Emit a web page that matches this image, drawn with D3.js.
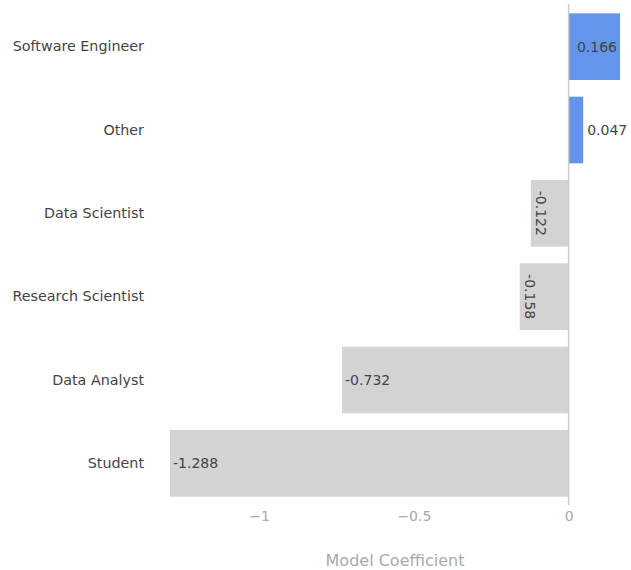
<!DOCTYPE html>
<meta charset='utf-8'>
<style>
	body { margin: 0; background: #fff; }
	text { font-family: 'DejaVu Sans', Verdana, sans-serif; }
</style>
<body>
	<div id='container'></div>
<script src='https://d3js.org/d3.v7.min.js'></script>
<script>
	const categories = ['Software Engineer', 'Other', 'Data Scientist', 'Research Scientist', 'Data Analyst', 'Student'];
	const coefficients = [0.166, 0.047, -0.122, -0.158, -0.732, -1.288];
	const tickValues = [-1, -0.5, 0];
	const axisTitle = 'Model Coefficient';

	const W = 631, H = 570,
		plot = { left: 170, right: 620, top: 5, bottom: 505 },
		fontSize = 14, pad = 3;

	const data = categories.map( ( c, i ) => ( { name: c, value: coefficients[i] } ) );

	const x = d3.scaleLinear()
		.domain( [d3.min( coefficients ), d3.max( coefficients )] )
		.range( [plot.left, plot.right] );
	const y = d3.scaleBand()
		.domain( categories )
		.range( [plot.top, plot.bottom] )
		.paddingInner( 0.2 )
		.paddingOuter( 0.1 );

	const svg = d3.select( '#container' ).append( 'svg' )
		.attr( 'width', W )
		.attr( 'height', H );

	// bars
	svg.append( 'g' ).selectAll( 'rect' )
		.data( data )
		.join( 'rect' )
			.attr( 'x', d => Math.min( x( 0 ), x( d.value ) ) )
			.attr( 'y', d => y( d.name ) )
			.attr( 'width', d => Math.abs( x( d.value ) - x( 0 ) ) )
			.attr( 'height', y.bandwidth() )
			.attr( 'fill', d => d.value >= 0 ? '#6495ed' : '#d3d3d3' );

	// zero line
	svg.append( 'line' )
		.attr( 'x1', x( 0 ) ).attr( 'x2', x( 0 ) )
		.attr( 'y1', plot.top - 1 ).attr( 'y2', plot.bottom )
		.attr( 'stroke', '#cccccc' )
		.attr( 'stroke-width', 1.5 );

	// category labels
	const yAxis = d3.axisLeft( y ).tickSize( 0 ).tickPadding( 0 );
	const yAxisEl = svg.append( 'g' )
		.attr( 'transform', `translate( ${plot.left - 26}, 0 )` )
		.call( yAxis );
	yAxisEl.select( '.domain' ).remove();
	yAxisEl.selectAll( 'text' )
		.attr( 'fill', '#444' )
		.style( 'font-size', '14.3px' )
		.style( 'font-family', "'DejaVu Sans', Verdana, sans-serif" );

	// x tick labels
	const xAxis = d3.axisBottom( x )
		.tickValues( tickValues )
		.tickSize( 0 )
		.tickPadding( 0 )
		.tickFormat( d => d === 0 ? '0' : d3.format( '' )( d ) );
	const xAxisEl = svg.append( 'g' )
		.attr( 'transform', `translate( 0, ${plot.bottom + 6} )` )
		.call( xAxis );
	xAxisEl.select( '.domain' ).remove();
	xAxisEl.selectAll( 'text' )
		.attr( 'fill', '#aaa' )
		.style( 'font-size', fontSize + 'px' )
		.style( 'font-family', "'DejaVu Sans', Verdana, sans-serif" );

	// axis title
	svg.append( 'text' )
		.attr( 'x', ( plot.left + plot.right ) / 2 )
		.attr( 'y', 566 )
		.attr( 'text-anchor', 'middle' )
		.attr( 'fill', '#aaa' )
		.style( 'font-size', '16px' )
		.text( axisTitle );

	// value labels: inside if fits, rotated if fits that way, outside otherwise
	const labels = svg.append( 'g' );
	data.forEach( d => {
		const txt = d3.format( '.3f' )( d.value ).replace( '\u2212', '-' );
		const t = labels.append( 'text' )
			.attr( 'fill', '#444' )
			.style( 'font-size', fontSize + 'px' )
			.text( txt );
		const tw = t.node().getComputedTextLength();
		const barW = Math.abs( x( d.value ) - x( 0 ) );
		const cy = y( d.name ) + y.bandwidth() / 2;
		const pos = d.value >= 0;
		if ( tw + 2 * pad <= barW ) {
			t.attr( 'x', pos ? x( d.value ) - pad : x( d.value ) + pad )
				.attr( 'y', cy )
				.attr( 'dy', '0.35em' )
				.attr( 'text-anchor', pos ? 'end' : 'start' );
		} else if ( fontSize + 2 * pad <= barW && tw + 2 * pad <= y.bandwidth() ) {
			const cx = pos ? x( d.value ) - pad - fontSize / 2 : x( d.value ) + pad + fontSize / 2;
			t.attr( 'text-anchor', 'middle' )
				.attr( 'dy', '0.35em' )
				.attr( 'transform', `translate( ${cx}, ${cy} ) rotate( 90 )` );
		} else {
			t.attr( 'x', pos ? x( d.value ) + pad + 1 : x( d.value ) - pad - 1 )
				.attr( 'y', cy )
				.attr( 'dy', '0.35em' )
				.attr( 'text-anchor', pos ? 'start' : 'end' );
		}
	} );
</script>
</body>
